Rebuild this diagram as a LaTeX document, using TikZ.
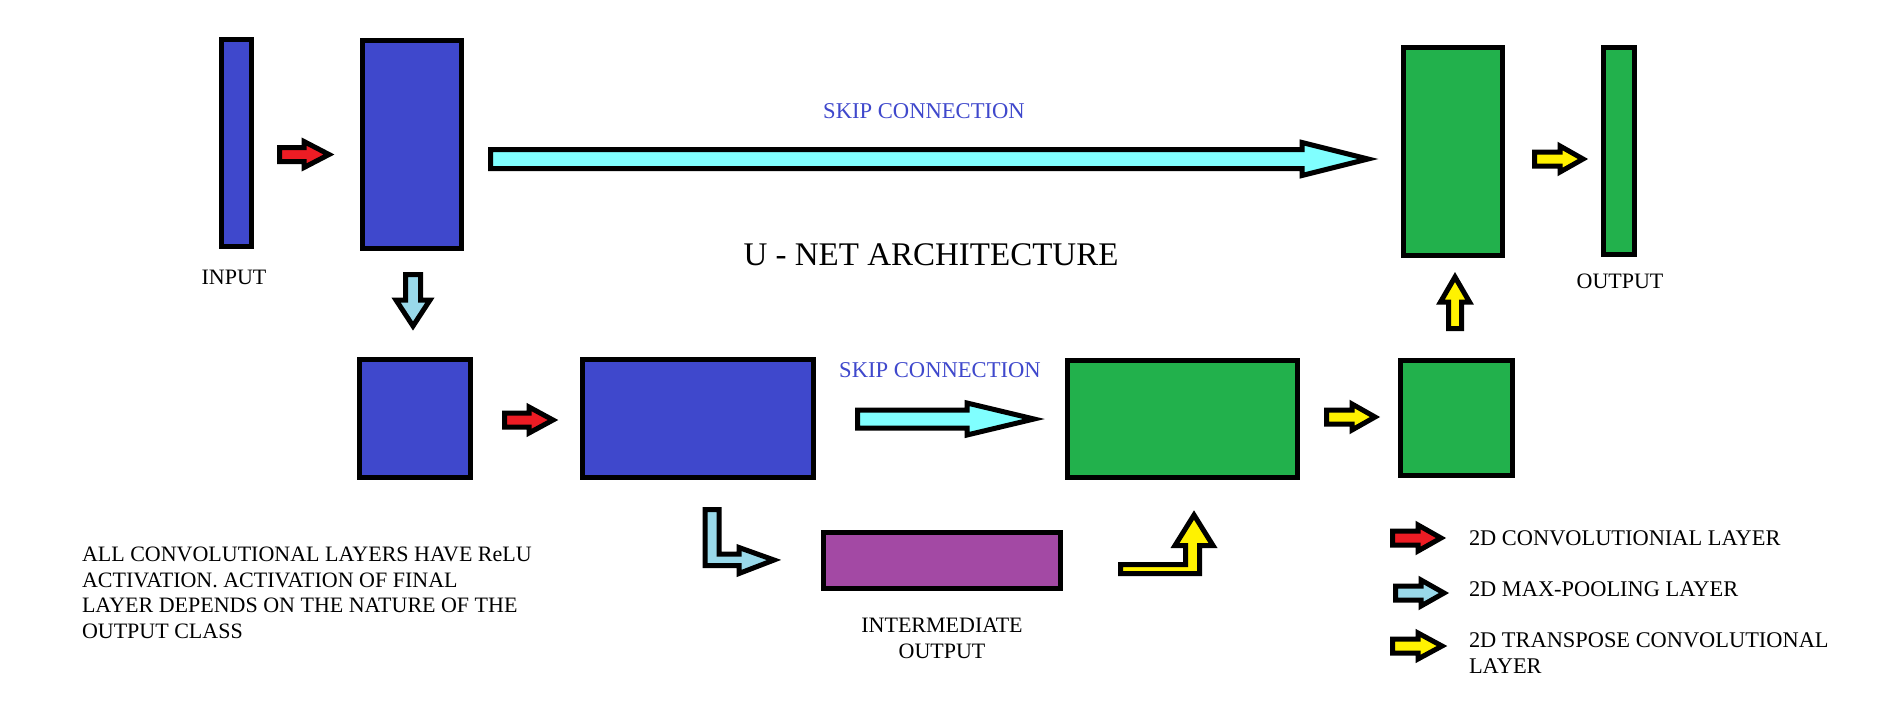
\documentclass[tikz,border=0pt]{standalone}
\usepackage{fontspec}
\setmainfont{Liberation Serif}
\definecolor{boxblue}{RGB}{63,72,204}
\definecolor{boxgreen}{RGB}{34,177,76}
\definecolor{boxpurple}{RGB}{163,73,164}
\definecolor{arrred}{RGB}{237,28,36}
\definecolor{arrlblue}{RGB}{153,217,234}
\definecolor{arrcyan}{RGB}{128,255,255}
\definecolor{arryellow}{RGB}{255,242,0}
\definecolor{skiptext}{RGB}{63,72,204}
\newcommand\rarr[7]{% tail x, head base x, tip x, center y, shaft half, head half, colour
  \draw[blockarrow, fill=#7] ({#1},{#4-#5}) -- ({#2},{#4-#5}) -- ({#2},{#4-#6}) -- ({#3},{#4})
    -- ({#2},{#4+#6}) -- ({#2},{#4+#5}) -- ({#1},{#4+#5}) -- cycle;}
\newcommand\varr[7]{% tail y, head base y, tip y, center x, shaft half, head half, colour
  \draw[blockarrow, fill=#7] ({#4-#5},{#1}) -- ({#4-#5},{#2}) -- ({#4-#6},{#2}) -- ({#4},{#3})
    -- ({#4+#6},{#2}) -- ({#4+#5},{#2}) -- ({#4+#5},{#1}) -- cycle;}
\begin{document}
\begin{tikzpicture}[x=1pt,y=-1pt,
  layer/.style={draw=black, line width=5pt, inner sep=0pt, outer sep=0pt, line join=miter},
  blockarrow/.style={draw=black, line width=5pt, line join=miter, miter limit=10},
  lbl/.style={inner sep=0pt, outer sep=0pt, font=\fontsize{22}{25.7}\selectfont, text=black},
  leglbl/.style={inner sep=0pt, outer sep=0pt, font=\fontsize{22.4}{25.5}\selectfont, text=black},
  skiplbl/.style={inner sep=0pt, outer sep=0pt, font=\fontsize{22.6}{26}\selectfont, text=skiptext},
  titlelbl/.style={inner sep=0pt, outer sep=0pt, font=\fontsize{33}{38}\selectfont, text=black}]
\useasboundingbox (0,0) rectangle (1899,716);
\fill[white] (0,0) rectangle (1899,716);

% layers
\node[layer, fill=boxblue, minimum width=30pt, minimum height=207pt] (inp) at (236.5,143) {};
\node[layer, fill=boxblue, minimum width=99pt, minimum height=208pt] (c1) at (412,144.5) {};
\node[layer, fill=boxgreen, minimum width=99pt, minimum height=208pt] (g1) at (1453,151.5) {};
\node[layer, fill=boxgreen, minimum width=31pt, minimum height=207pt] (out) at (1619,151) {};
\node[layer, fill=boxblue, minimum width=111pt, minimum height=118pt] (p1) at (415,418.5) {};
\node[layer, fill=boxblue, minimum width=231pt, minimum height=118pt] (c2) at (698,418.5) {};
\node[layer, fill=boxgreen, minimum width=230pt, minimum height=117pt] (g2) at (1182.5,419) {};
\node[layer, fill=boxgreen, minimum width=112pt, minimum height=115pt] (g3) at (1456.5,418) {};
\node[layer, fill=boxpurple, minimum width=237pt, minimum height=56pt] (pu) at (942,560.5) {};

% arrows
\rarr{279.5}{304}{329}{154.5}{7}{13}{arrred}
\rarr{504.5}{529}{553}{420}{7}{13}{arrred}
\rarr{490.5}{1302}{1368}{159}{9.5}{16.5}{arrcyan}
\rarr{857.5}{967}{1034}{419}{9}{16}{arrcyan}
\rarr{1534.5}{1560}{1583}{159}{7}{13}{arryellow}
\rarr{1326.5}{1352}{1375}{417}{7}{13}{arryellow}
\varr{274.5}{300}{326}{413}{7.5}{17}{arrlblue}
\varr{328.5}{302}{277}{1455}{6.5}{14.5}{arryellow}
\draw[blockarrow, fill=arrlblue] (705,509.5) -- (719,509.5) -- (719,554) -- (739,554) -- (739,547.5)
  -- (774,560) -- (739,573.5) -- (739,565.5) -- (705,565.5) -- cycle;
\draw[blockarrow, fill=arryellow] (1120.5,573.5) -- (1120.5,564.5) -- (1185.5,564.5) -- (1185.5,545.5)
  -- (1175,545.5) -- (1194,515) -- (1213,545.5) -- (1199.5,545.5) -- (1199.5,573.5) -- cycle;

% legend
\rarr{1392.5}{1418}{1441}{538}{7}{13}{arrred}
\rarr{1395.5}{1421}{1444}{593}{7}{13}{arrlblue}
\rarr{1392.5}{1418}{1442}{646}{7}{13}{arryellow}
\node[leglbl, anchor=base west] (lg1) at (1469,545) {2D CONVOLUTIONIAL LAYER};
\node[leglbl, anchor=base west] (lg2) at (1469,596) {2D MAX-POOLING LAYER};
\node[leglbl, anchor=north west, align=left] (lg3) at (1469,633) {2D TRANSPOSE CONVOLUTIONAL\\LAYER};

% labels
\node[lbl, anchor=base] (tinp) at (234,284) {INPUT};
\node[lbl, anchor=base] (tout) at (1620,288) {OUTPUT};
\node[skiplbl, anchor=base] (sk1) at (924,118) {SKIP CONNECTION};
\node[skiplbl, anchor=base] (sk2) at (940,377) {SKIP CONNECTION};
\node[titlelbl, anchor=base] (title) at (931,265) {U - NET ARCHITECTURE};
\node[lbl, anchor=north, align=center] (tint) at (942,618) {INTERMEDIATE\\OUTPUT};
\node[lbl, anchor=north west, align=left] (note) at (82,547) {ALL CONVOLUTIONAL LAYERS HAVE ReLU\\ACTIVATION. ACTIVATION OF FINAL\\LAYER DEPENDS ON THE NATURE OF THE\\OUTPUT CLASS};
\end{tikzpicture}
\end{document}
